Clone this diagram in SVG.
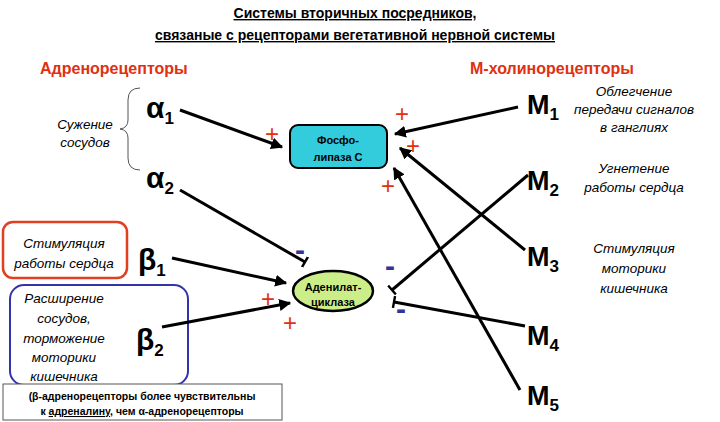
<svg xmlns="http://www.w3.org/2000/svg" width="720" height="422" viewBox="0 0 720 422">
<style>
text{font-family:"Liberation Sans",Arial,sans-serif}
.t{font-size:14px;font-weight:bold;text-anchor:middle;text-decoration:underline}
.h{font-size:16px;font-weight:bold;fill:#e03010}
.i{font-size:13.5px;font-style:italic;text-anchor:middle}
.g{font-size:30px;font-weight:bold}
.s{font-size:17px}
.m{font-size:27px;font-weight:bold}
.c{stroke:#000;stroke-width:3;fill:none}
.p{font-size:24px;fill:#e03010;text-anchor:middle}
.n{font-size:30px;font-weight:bold;fill:#333399;text-anchor:middle}
</style>
<defs>
<marker id="a" viewBox="0 0 10 10" refX="9" refY="5" markerWidth="4" markerHeight="4" orient="auto"><path d="M0,0L10,5L0,10z"/></marker>
<marker id="b" viewBox="0 0 4 10" refX="2" refY="5" markerWidth="2" markerHeight="4" orient="auto"><path d="M1,0h2v10h-2z"/></marker>
</defs>
<rect width="720" height="422" fill="#fff"/>
<text class="t" x="355" y="18">Системы вторичных посредников,</text>
<text class="t" x="355" y="40">связаные с рецепторами вегетативной нервной системы</text>
<text class="h" x="40" y="74">Адренорецепторы</text>
<text class="h" x="470" y="74">М-холинорецепторы</text>
<g id="constrict"><text class="i" x="85" y="129">Сужение</text><text class="i" x="85" y="147">сосудов</text>
<path d="M140,88 q-12,0 -12,12 v20 q0,8 -8,9 q8,1 8,9 v20 q0,12 12,12" fill="none" stroke="#555" stroke-width="1"/></g>
<g id="alpha1"><text class="g" x="146" y="118">α<tspan class="s" dy="6">1</tspan></text></g>
<g id="alpha2"><text class="g" x="146" y="188">α<tspan class="s" dy="6">2</tspan></text></g>
<g id="beta1"><rect x="3" y="222" width="124" height="56" rx="10" fill="#fff" stroke="#e04020" stroke-width="2.5"/>
<text class="i" x="64" y="248">Стимуляция</text><text class="i" x="64" y="268">работы сердца</text>
<text class="g" x="138" y="270">β<tspan class="s" dy="6">1</tspan></text></g>
<g id="beta2"><rect x="10" y="285" width="178" height="100" rx="14" fill="#fff" stroke="#3333aa" stroke-width="2"/>
<text class="i" x="64" y="303">Расширение</text><text class="i" x="64" y="323">сосудов,</text><text class="i" x="64" y="343">торможение</text><text class="i" x="64" y="362">моторики</text><text class="i" x="64" y="381">кишечника</text>
<text class="g" x="136" y="350">β<tspan class="s" dy="6">2</tspan></text></g>
<g id="note"><rect x="3" y="384" width="279" height="36" fill="#fff" stroke="#555" stroke-width="1"/>
<text x="142" y="400" font-size="10.5" font-weight="bold" text-anchor="middle">(β-адренорецепторы более чувствительны</text>
<text x="142" y="415" font-size="10.5" font-weight="bold" text-anchor="middle">к <tspan text-decoration="underline">адреналину</tspan>, чем  α-адренорецепторы</text></g>
<g id="plc"><rect x="290" y="125" width="97" height="43" rx="8" fill="#33ccdd" stroke="#000" stroke-width="2"/>
<text x="338" y="144" font-size="11" font-weight="bold" text-anchor="middle">Фосфо-</text><text x="338" y="161" font-size="11" font-weight="bold" text-anchor="middle">липаза С</text></g>
<g id="ac"><ellipse cx="333" cy="291" rx="40" ry="20" fill="#ccee88" stroke="#000" stroke-width="2.5"/>
<text x="333" y="291" font-size="11" font-weight="bold" text-anchor="middle">Аденилат-</text><text x="333" y="306" font-size="11" font-weight="bold" text-anchor="middle">циклаза</text></g>
<g id="M"><text class="m" x="527" y="114">M<tspan class="s" dy="6">1</tspan></text>
<text class="m" x="527" y="190">M<tspan class="s" dy="6">2</tspan></text>
<text class="m" x="527" y="266">M<tspan class="s" dy="6">3</tspan></text>
<text class="m" x="527" y="345">M<tspan class="s" dy="6">4</tspan></text>
<text class="m" x="527" y="405">M<tspan class="s" dy="6">5</tspan></text></g>
<g id="rtext"><text class="i" x="634" y="96">Облегчение</text><text class="i" x="634" y="114">передачи сигналов</text><text class="i" x="634" y="132">в ганглиях</text>
<text class="i" x="634" y="173">Угнетение</text><text class="i" x="634" y="192">работы сердца</text>
<text class="i" x="634" y="253">Стимуляция</text><text class="i" x="634" y="273">моторики</text><text class="i" x="634" y="293">кишечника</text></g>
<g id="connectors">
<path class="c" d="M180,110L282,147" marker-end="url(#a)"/>
<path class="c" d="M180,190L305,262" marker-end="url(#b)"/>
<path class="c" d="M172,258L286,283" marker-end="url(#a)"/>
<path class="c" d="M162,327L290,303" marker-end="url(#a)"/>
<path class="c" d="M518,107L395,134" marker-end="url(#a)"/>
<path class="c" d="M528,175L392,290" marker-end="url(#b)"/>
<path class="c" d="M525,250L400,148" marker-end="url(#a)"/>
<path class="c" d="M525,326L394,302" marker-end="url(#b)"/>
<path class="c" d="M520,390L394,168" marker-end="url(#a)"/>
</g>
<g id="signs">
<text class="p" x="272" y="142">+</text><text class="p" x="402" y="122">+</text><text class="p" x="413" y="154">+</text><text class="p" x="388" y="194">+</text><text class="p" x="268" y="307">+</text><text class="p" x="290" y="331">+</text>
<text class="n" x="300" y="260">-</text><text class="n" x="390" y="276">-</text><text class="n" x="401" y="319">-</text>
</g>
</svg>
